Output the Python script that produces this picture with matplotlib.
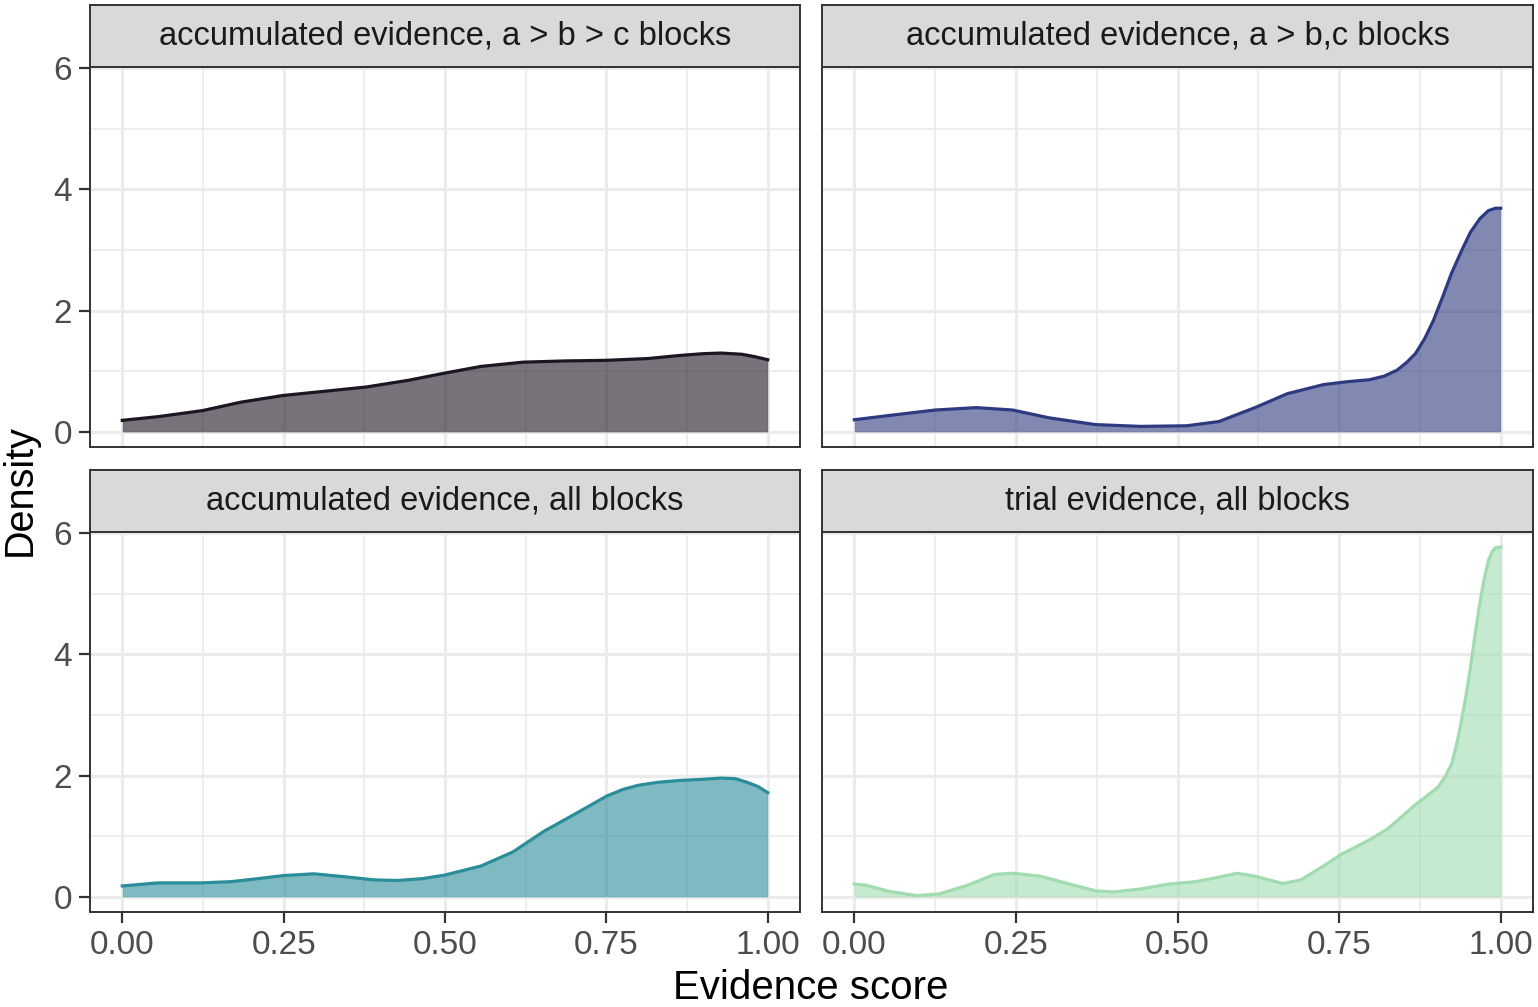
import matplotlib.pyplot as plt

plt.rcParams['font.family'] = ['Liberation Sans', 'DejaVu Sans']

# panel titles
titles = ["accumulated evidence, a > b > c blocks",
          "accumulated evidence, a > b,c blocks",
          "accumulated evidence, all blocks",
          "trial evidence, all blocks"]

# density curves
x_abc = [0.0, 0.055, 0.124, 0.184, 0.249, 0.314, 0.378, 0.443, 0.5, 0.556, 0.621,
         0.686, 0.75, 0.815, 0.863, 0.9, 0.928, 0.96, 0.98, 1.0]
y_abc = [0.19, 0.25, 0.35, 0.49, 0.60, 0.67, 0.74, 0.85, 0.97, 1.08, 1.15,
         1.17, 1.18, 1.21, 1.26, 1.29, 1.30, 1.28, 1.24, 1.19]

x_abc2 = [0.0, 0.054, 0.125, 0.189, 0.245, 0.302, 0.373, 0.443, 0.514, 0.564, 0.62,
          0.67, 0.726, 0.765, 0.797, 0.82, 0.84, 0.855, 0.868, 0.882, 0.896, 0.91,
          0.924, 0.94, 0.953, 0.968, 0.981, 0.992, 1.0]
y_abc2 = [0.20, 0.27, 0.36, 0.40, 0.36, 0.23, 0.12, 0.09, 0.10, 0.17, 0.40,
          0.63, 0.78, 0.83, 0.86, 0.92, 1.02, 1.15, 1.29, 1.53, 1.84, 2.22,
          2.62, 3.0, 3.29, 3.52, 3.65, 3.69, 3.69]

x_all = [0.0, 0.055, 0.12, 0.168, 0.21, 0.249, 0.297, 0.346, 0.39, 0.427, 0.465, 0.5,
         0.556, 0.605, 0.653, 0.702, 0.75, 0.775, 0.799, 0.83, 0.863, 0.9, 0.928,
         0.95, 0.968, 0.985, 1.0]
y_all = [0.18, 0.23, 0.23, 0.25, 0.30, 0.35, 0.38, 0.33, 0.28, 0.27, 0.30, 0.36,
         0.51, 0.74, 1.08, 1.37, 1.66, 1.77, 1.84, 1.89, 1.92, 1.94, 1.96,
         1.95, 1.89, 1.82, 1.72]

x_trial = [0.0, 0.019, 0.054, 0.097, 0.132, 0.175, 0.217, 0.245, 0.288, 0.33, 0.373,
           0.401, 0.443, 0.486, 0.528, 0.571, 0.592, 0.62, 0.663, 0.691, 0.726,
           0.755, 0.797, 0.825, 0.868, 0.89, 0.903, 0.914, 0.924, 0.931, 0.938,
           0.946, 0.953, 0.96, 0.967, 0.974, 0.981, 0.987, 0.992, 1.0]
y_trial = [0.21, 0.19, 0.09, 0.02, 0.05, 0.19, 0.37, 0.39, 0.34, 0.22, 0.10,
           0.08, 0.13, 0.21, 0.25, 0.34, 0.39, 0.34, 0.22, 0.28, 0.51,
           0.71, 0.94, 1.12, 1.52, 1.70, 1.81, 1.98, 2.19, 2.48, 2.83,
           3.30, 3.76, 4.30, 4.80, 5.22, 5.55, 5.70, 5.76, 5.77]

xs = [x_abc, x_abc2, x_all, x_trial]
ys = [y_abc, y_abc2, y_all, y_trial]
colors = ["#1e1523", "#2e3a80", "#2a8d9a", "#a0dcb0"]

W, H = 1538, 1007
fig = plt.figure(figsize=(W / 100, H / 100), dpi=100)

# panel boxes in pixels: left, top, right, bottom
boxes = [(90, 67, 800, 447), (822, 67, 1533, 447),
         (90, 532, 800, 912), (822, 532, 1533, 912)]
strip_h = 62

for i, (l, t, r, b) in enumerate(boxes):
    ax = fig.add_axes([l / W, 1 - b / H, (r - l) / W, (b - t) / H])
    ax.set_xlim(-0.05, 1.05)
    ax.set_ylim(-0.25, 6.02)
    ax.set_xticks([0, 0.25, 0.5, 0.75, 1.0])
    ax.set_xticks([0.125, 0.375, 0.625, 0.875], minor=True)
    ax.set_yticks([0, 2, 4, 6])
    ax.set_yticks([1, 3, 5], minor=True)
    ax.grid(True, which='major', color='#ebebeb', lw=2.2)
    ax.grid(True, which='minor', color='#ebebeb', lw=1.2)
    ax.set_axisbelow(True)
    for s in ax.spines.values():
        s.set_color('#333333')
        s.set_linewidth(1.4)
    ax.tick_params(which='minor', length=0)
    ax.tick_params(which='major', length=8, width=1.6, color='#333333',
                   labelsize=24, labelcolor='#4d4d4d', pad=5)
    ax.set_xticklabels(["0.00", "0.25", "0.50", "0.75", "1.00"])
    if i < 2:
        ax.tick_params(axis='x', length=0, labelbottom=False)
    if i % 2 == 1:
        ax.tick_params(axis='y', length=0, labelleft=False)

    ax.fill_between(xs[i], 0, ys[i], color=colors[i], alpha=0.6, lw=0)
    ax.plot(xs[i], ys[i], color=colors[i], lw=2.3, solid_joinstyle='round')

    # facet strip
    sax = fig.add_axes([l / W, 1 - t / H, (r - l) / W, strip_h / H])
    sax.set_xticks([])
    sax.set_yticks([])
    sax.set_facecolor('#d9d9d9')
    for s in sax.spines.values():
        s.set_color('#333333')
        s.set_linewidth(1.4)
    sax.text(0.5, 0.5, titles[i], ha='center', va='center', fontsize=23.5,
             color='#1a1a1a', transform=sax.transAxes)

fig.text(811 / W, 1 - 988 / H, "Evidence score", ha='center', va='center', fontsize=29)
fig.text(20 / W, 1 - 490 / H, "Density", ha='center', va='center', fontsize=28.5,
         rotation=90)

fig.savefig("out.png", dpi=100, facecolor='white')
